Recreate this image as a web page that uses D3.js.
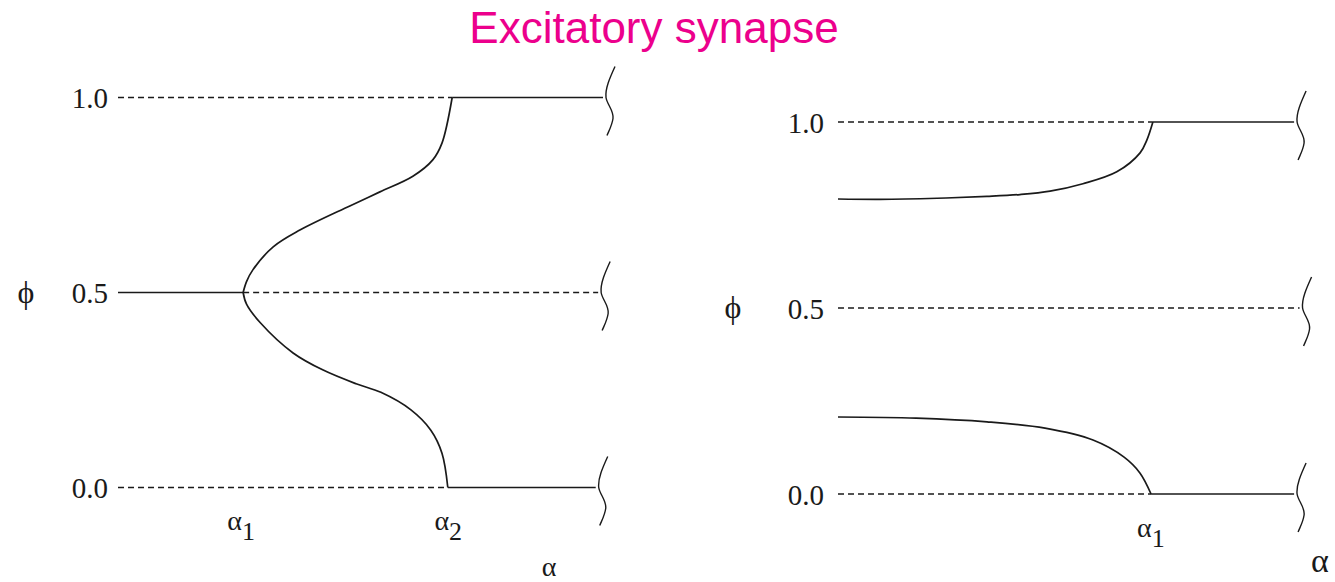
<!DOCTYPE html>
<html><head><meta charset="utf-8">
<script src="https://cdn.jsdelivr.net/npm/d3@7/dist/d3.min.js"></script>
<style>html,body{margin:0;padding:0;background:#fff;}svg{display:block;}</style>
</head><body>
<svg id="chart" width="1335" height="582"></svg>
<script>
// ---- data ----
const title = "Excitatory synapse";
const phiTicks = [0, 0.5, 1];
const phiTickLabels = ["0.0", "0.5", "1.0"];

// Left panel (two critical points alpha1, alpha2), alpha normalised 0..1
const leftAlphaMarks = [{name: "1", a: 0.258}, {name: "2", a: 0.685}];
const leftUpper = [[0.258,0.5],[0.265,0.528],[0.278,0.558],[0.320,0.617],[0.375,0.660],[0.478,0.722],[0.540,0.758],[0.608,0.798],[0.649,0.840],[0.668,0.883],[0.689,1.0]];
const leftLower = [[0.258,0.5],[0.265,0.47],[0.293,0.423],[0.361,0.345],[0.423,0.301],[0.491,0.266],[0.542,0.244],[0.604,0.199],[0.645,0.147],[0.668,0.088],[0.680,0.0]];
// straight segments: [phi, alphaStart, alphaEnd, dashed]
const leftSegments = [[1,0,0.689,true],[1,0.689,1.0,false],[0.5,0,0.258,false],[0.5,0.258,0.99,true],[0,0,0.680,true],[0,0.680,0.985,false]];
const leftBreaks = [[1.0,1.0],[0.99,0.5],[0.985,0]];

// Right panel (one critical point alpha1)
const rightAlphaMarks = [{name: "1", a: 0.689}];
const rightUpper = [[0,0.793],[0.092,0.792],[0.217,0.795],[0.326,0.800],[0.398,0.805],[0.464,0.814],[0.536,0.834],[0.610,0.866],[0.661,0.917],[0.676,0.952],[0.689,1.0]];
const rightLower = [[0,0.207],[0.171,0.204],[0.326,0.194],[0.453,0.177],[0.558,0.145],[0.626,0.099],[0.661,0.056],[0.685,0.0]];
const rightSegments = [[1,0,0.689,true],[1,0.689,0.998,false],[0.5,0,1.01,true],[0,0,0.687,true],[0,0.687,0.998,false]];
const rightBreaks = [[0.998,1.0],[1.01,0.5],[0.998,0]];

// ---- drawing ----
const svg = d3.select("#chart");
const ink = "#1a1a1a";
const serif = "'Liberation Serif','DejaVu Serif',serif";

svg.append("text").attr("x", 654).attr("y", 43).attr("text-anchor", "middle")
  .attr("font-family", "'Liberation Sans',Arial,sans-serif").attr("font-size", 44)
  .attr("fill", "#EC008C").text(title);

function panel(cfg) {
  const x = d3.scaleLinear().domain([0, 1]).range(cfg.xr);
  const y = d3.scaleLinear().domain([0, 1]).range(cfg.yr);
  const g = svg.append("g");

  // y axis labels (no line)
  const ax = d3.axisLeft(y).tickValues(phiTicks).tickSize(0).tickPadding(cfg.pad)
    .tickFormat((d, i) => phiTickLabels[i]);
  const axg = g.append("g").attr("transform", `translate(${cfg.xr[0]},0)`).call(ax);
  axg.select(".domain").remove();
  axg.selectAll("text").attr("font-family", serif).attr("font-size", 29).attr("fill", ink)
    .attr("dy", "0.36em");

  // segments
  g.selectAll(".seg").data(cfg.segments).enter().append("line")
    .attr("x1", d => x(d[1])).attr("x2", d => x(d[2]))
    .attr("y1", d => y(d[0])).attr("y2", d => y(d[0]))
    .attr("stroke", ink).attr("stroke-width", d => d[3] ? 1.5 : 1.7)
    .attr("stroke-dasharray", d => d[3] ? "6,4" : null);

  // curves
  const line = d3.line().x(d => x(d[0])).y(d => y(d[1])).curve(d3.curveCatmullRom.alpha(0.5));
  [cfg.upper, cfg.lower].forEach(c => {
    g.append("path").attr("d", line(c)).attr("fill", "none")
      .attr("stroke", ink).attr("stroke-width", 1.7);
  });

  // break marks
  g.selectAll(".brk").data(cfg.breaks).enter().append("path")
    .attr("d", d => {
      const bx = x(d[0]) + 3, by = y(d[1]);
      return `M${bx+9},${by-31} C${bx+4},${by-20} ${bx-1},${by-9} ${bx},${by} C${bx+1},${by+7} ${bx+8},${by+13} ${bx+7},${by+21} C${bx+6},${by+28} ${bx+3},${by+33} ${bx+1},${by+38}`;
    })
    .attr("fill", "none").attr("stroke", ink).attr("stroke-width", 1.4);

  // alpha marks
  cfg.marks.forEach(m => {
    const t = g.append("text").attr("x", x(m.a) - 2).attr("y", cfg.markY)
      .attr("text-anchor", "middle").attr("font-family", serif).attr("font-size", 28).attr("fill", ink);
    t.append("tspan").text("α");
    t.append("tspan").attr("dy", 10).attr("font-size", 26).text(m.name);
  });

  // phi label
  g.append("text").attr("x", cfg.phiX).attr("y", y(0.5) + 10).attr("text-anchor", "middle")
    .attr("font-family", serif).attr("font-size", 32).attr("fill", ink).text("ϕ");
  // alpha axis title
  g.append("text").attr("x", cfg.alphaX).attr("y", cfg.alphaY).attr("text-anchor", "middle")
    .attr("font-family", serif).attr("font-size", cfg.alphaSize).attr("fill", ink).text("α");
}

panel({xr: [118, 603], yr: [487.5, 97.5], pad: 10, segments: leftSegments, upper: leftUpper, lower: leftLower,
  breaks: leftBreaks, marks: leftAlphaMarks, markY: 530, phiX: 26, alphaX: 549, alphaY: 576, alphaSize: 28});
panel({xr: [838, 1295], yr: [494, 122], pad: 14, segments: rightSegments, upper: rightUpper, lower: rightLower,
  breaks: rightBreaks, marks: rightAlphaMarks, markY: 537, phiX: 733, alphaX: 1320, alphaY: 572, alphaSize: 34});
</script>
</body></html>
